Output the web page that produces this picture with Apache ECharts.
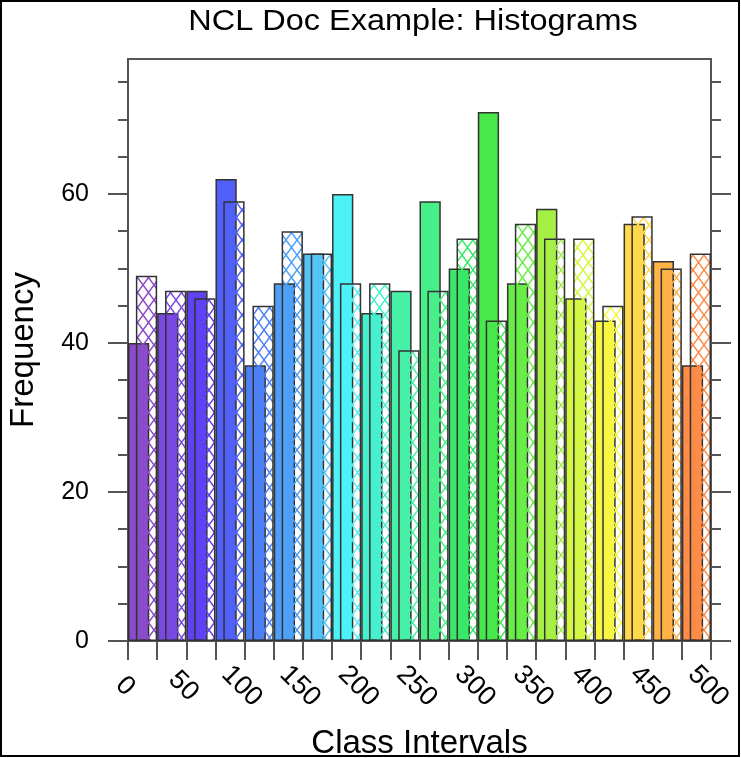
<!DOCTYPE html>
<html>
<head>
<meta charset="utf-8">
<script src="https://cdn.jsdelivr.net/npm/echarts@6/dist/echarts.min.js"></script>
<style>
html, body { margin: 0; padding: 0; background: #fff; }
#chart { width: 741px; height: 758px; }
</style>
</head>
<body>
<div id="chart"></div>
<script>
// Bin edges of the class intervals (20 bins, width 25)
const binEdges = [0, 25, 50, 75, 100, 125, 150, 175, 200, 225, 250, 275, 300, 325, 350, 375, 400, 425, 450, 475, 500];
// Frequencies of the two compared data sets, one value per bin
const solidCounts   = [40, 44, 47, 62, 37, 48, 52, 60, 44, 47, 59, 50, 71, 48, 58, 46, 43, 56, 51, 37];
const hatchedCounts = [49, 47, 46, 59, 45, 55, 52, 48, 48, 39, 47, 54, 43, 56, 54, 54, 45, 57, 50, 52];
// Tick labels
const xTickLabels = [0, 50, 100, 150, 200, 250, 300, 350, 400, 450, 500];
const yMajorTicks = [0, 20, 40, 60];
const yMinorTicks = [5, 10, 15, 25, 30, 35, 45, 50, 55, 65, 70, 75];
const yMax = 78.1;

// One colour per bin, running from violet through green to orange
const binColors = [
  '#8a4cc8', '#7a48e2', '#5e42f4', '#5060f8', '#4c80f4', '#4ea0f6', '#54c4f8',
  '#4cf2f8', '#46f0cc', '#46f0a6', '#48ee88', '#3ae868', '#46e84a', '#68ee46',
  '#a6f046', '#d4f644', '#f8f644', '#ffd84c', '#ffb246', '#ff8c46'
];

const binNames = solidCounts.map((_, i) => binEdges[i] + '-' + binEdges[i + 1]);

// Cross-hatch tile drawn with a transparent background
function hatchPattern(color) {
  const w = 11, h = 15;
  const c = document.createElement('canvas');
  c.width = w; c.height = h;
  const g = c.getContext('2d');
  g.strokeStyle = color;
  g.lineWidth = 1.5;
  g.beginPath();
  g.moveTo(-w, -h); g.lineTo(2 * w, 2 * h);
  g.moveTo(2 * w, -h); g.lineTo(-w, 2 * h);
  g.stroke();
  return { image: c, repeat: 'repeat' };
}

const FONT = 'Liberation Sans, Arial, Helvetica, sans-serif';
const FRAME = '#555';
const chart = echarts.init(document.getElementById('chart'), null, { renderer: 'canvas' });

const yBase = { type: 'value', min: 0, max: yMax, splitLine: { show: false } };
const tickLine = { color: FRAME, width: 2 };

chart.setOption({
  animation: false,
  backgroundColor: '#fff',
  grid: {
    left: 128, right: 30, top: 59, bottom: 117,
    show: true, borderColor: FRAME, borderWidth: 2,
    containLabel: false, outerBoundsMode: 'none'
  },
  graphic: [
    {
      type: 'text', x: 413, y: 7, scaleX: 1.12, z: 10,
      style: { text: 'NCL Doc Example: Histograms', font: '29px ' + FONT, fill: '#000', textAlign: 'center', textVerticalAlign: 'top' }
    },
    {
      type: 'rect', z: 10, silent: true,
      shape: { x: 1, y: 1, width: 738, height: 755 },
      style: { fill: 'none', stroke: '#000', lineWidth: 2 }
    }
  ],
  xAxis: [
    {
      type: 'category', data: binNames, boundaryGap: true,
      axisLine: { show: false }, axisTick: { show: false }, axisLabel: { show: false }
    },
    {
      type: 'value', min: 0, max: 500, position: 'bottom',
      splitLine: { show: false },
      axisLine: { show: true, lineStyle: tickLine },
      axisTick: { show: true, length: 19, customValues: binEdges, lineStyle: tickLine },
      axisLabel: {
        customValues: xTickLabels, rotate: -45, margin: 48,
        align: 'center', verticalAlign: 'middle', padding: [8, 8, 0, 0],
        fontFamily: FONT, fontSize: 27, color: '#000'
      },
      name: 'Class Intervals', nameLocation: 'middle', nameGap: 86,
      nameTextStyle: { fontFamily: FONT, fontSize: 33, color: '#000' }
    }
  ],
  yAxis: [
    Object.assign({}, yBase, {
      position: 'left',
      axisLine: { show: true, lineStyle: tickLine },
      axisTick: { show: true, length: 20, customValues: yMajorTicks, lineStyle: tickLine },
      axisLabel: { customValues: yMajorTicks, margin: 39, fontFamily: FONT, fontSize: 25, color: '#000' },
      name: 'Frequency', nameLocation: 'middle', nameGap: 88,
      nameTextStyle: { fontFamily: FONT, fontSize: 33, color: '#000' }
    }),
    Object.assign({}, yBase, {
      position: 'left',
      axisLine: { show: false },
      axisTick: { show: true, length: 10, customValues: yMinorTicks, lineStyle: tickLine },
      axisLabel: { show: false }
    }),
    Object.assign({}, yBase, {
      position: 'right',
      axisLine: { show: true, lineStyle: tickLine },
      axisTick: { show: true, length: 20, customValues: yMajorTicks, lineStyle: tickLine },
      axisLabel: { show: false }
    }),
    Object.assign({}, yBase, {
      position: 'right',
      axisLine: { show: false },
      axisTick: { show: true, length: 10, customValues: yMinorTicks, lineStyle: tickLine },
      axisLabel: { show: false }
    })
  ],
  series: [
    {
      name: 'solid', type: 'bar', xAxisIndex: 0, yAxisIndex: 0,
      barWidth: '73%', barGap: '-63%', barCategoryGap: 0,
      data: solidCounts.map((v, i) => ({
        value: v,
        itemStyle: { color: binColors[i], borderColor: '#333', borderWidth: 1.5 }
      }))
    },
    {
      name: 'hatched', type: 'bar', xAxisIndex: 0, yAxisIndex: 0,
      barWidth: '73%', barGap: '-63%', barCategoryGap: 0,
      data: hatchedCounts.map((v, i) => ({
        value: v,
        itemStyle: { color: hatchPattern(binColors[i]), borderColor: '#333', borderWidth: 1.5 }
      }))
    }
  ]
});
</script>
</body>
</html>
